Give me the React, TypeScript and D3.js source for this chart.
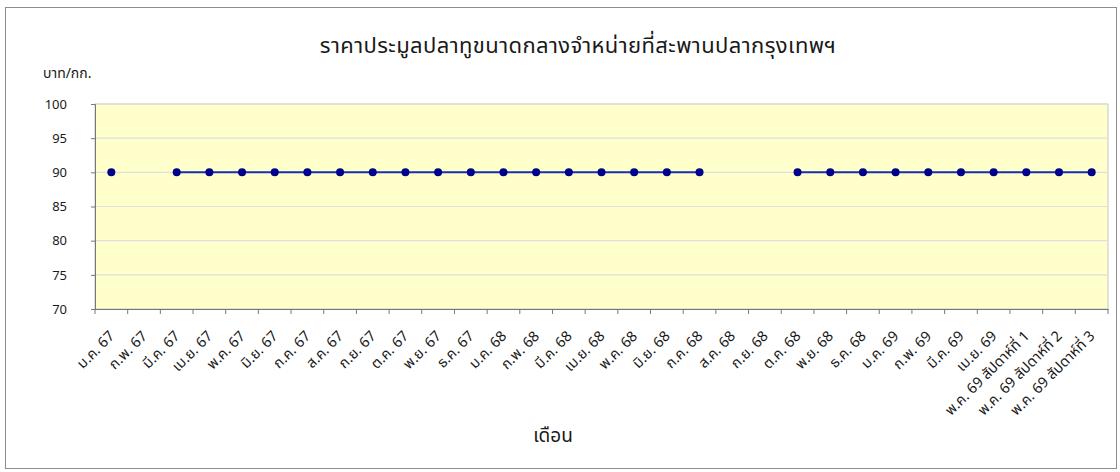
// @ts-nocheck
import React, { useEffect, useRef } from "react";
import * as d3 from "d3";

const months = [
  "ม.ค. 67", "ก.พ. 67", "มี.ค. 67", "เม.ย. 67", "พ.ค. 67", "มิ.ย. 67",
  "ก.ค. 67", "ส.ค. 67", "ก.ย. 67", "ต.ค. 67", "พ.ย. 67", "ธ.ค. 67",
  "ม.ค. 68", "ก.พ. 68", "มี.ค. 68", "เม.ย. 68", "พ.ค. 68", "มิ.ย. 68",
  "ก.ค. 68", "ส.ค. 68", "ก.ย. 68", "ต.ค. 68", "พ.ย. 68", "ธ.ค. 68",
  "ม.ค. 69", "ก.พ. 69", "มี.ค. 69", "เม.ย. 69",
  "พ.ค. 69 สัปดาห์ที่ 1", "พ.ค. 69 สัปดาห์ที่ 2", "พ.ค. 69 สัปดาห์ที่ 3",
];

// null = no data that month
const prices = [
  90, null, 90, 90, 90, 90,
  90, 90, 90, 90, 90, 90,
  90, 90, 90, 90, 90, 90,
  90, null, null, 90, 90, 90,
  90, 90, 90, 90,
  90, 90, 90,
];

const yTicks = [70, 75, 80, 85, 90, 95, 100];

const title = "ราคาประมูลปลาทูขนาดกลางจำหน่ายที่สะพานปลากรุงเทพฯ";
const yUnit = "บาท/กก.";
const xTitle = "เดือน";

const FONT = "Tahoma, 'Noto Sans Thai', 'Noto Sans', 'DejaVu Sans', sans-serif";

const App = () => {
  const ref = useRef();

  useEffect(() => {
    const svg = d3.select(ref.current);
    svg.selectAll("*").remove();

    const width = 1120,
      height = 472,
      margin = { top: 104, right: 12, bottom: 163, left: 95 };

    const data = months.map((m, i) => ({ m, v: prices[i] }));

    // outer frame
    svg
      .append("rect")
      .attr("x", 5.5)
      .attr("y", 7.5)
      .attr("width", 1111)
      .attr("height", 461)
      .attr("fill", "#fff")
      .attr("stroke", "#8c8c8c");

    const x = d3
      .scaleBand()
      .domain(months)
      .range([margin.left, width - margin.right]);

    const y = d3
      .scaleLinear()
      .domain([70, 100])
      .range([height - margin.bottom, margin.top]);

    // plot area
    svg
      .append("rect")
      .attr("x", margin.left)
      .attr("y", margin.top)
      .attr("width", width - margin.right - margin.left)
      .attr("height", height - margin.bottom - margin.top)
      .attr("fill", "#ffffcc")
      .attr("stroke", "#c6c6c6");

    // gridlines
    svg
      .append("g")
      .selectAll("line")
      .data(yTicks.filter(t => t > 70))
      .join("line")
      .attr("x1", margin.left)
      .attr("x2", width - margin.right)
      .attr("y1", d => y(d))
      .attr("y2", d => y(d))
      .attr("stroke", "#dedede")
      .attr("stroke-width", 1.2);

    // y axis
    const yAxis = svg
      .append("g")
      .attr("transform", `translate(${margin.left},0)`)
      .call(d3.axisLeft(y).tickValues(yTicks).tickSize(4).tickPadding(24));
    yAxis.selectAll("line,path").attr("stroke", "#777");
    yAxis
      .selectAll("text")
      .attr("font-family", FONT)
      .attr("font-size", 13)
      .attr("fill", "#1a1a1a");

    // x axis
    const xAxis = svg
      .append("g")
      .attr("transform", `translate(0,${height - margin.bottom})`)
      .call(d3.axisBottom(x).tickSize(0).tickFormat(() => ""));
    xAxis.select(".domain").attr("stroke", "#777");
    xAxis
      .selectAll(".tk")
      .data(d3.range(months.length + 1))
      .join("line")
      .attr("class", "tk")
      .attr("x1", i => margin.left + i * x.step())
      .attr("x2", i => margin.left + i * x.step())
      .attr("y1", 0)
      .attr("y2", 5)
      .attr("stroke", "#777");

    svg
      .append("g")
      .selectAll("text")
      .data(months)
      .join("text")
      .attr(
        "transform",
        d => `translate(${x(d) + x.bandwidth() / 2 + 4},${height - margin.bottom + 28}) rotate(-45)`
      )
      .attr("text-anchor", "end")
      .attr("font-family", FONT)
      .attr("font-size", 14.5)
      .attr("fill", "#1a1a1a")
      .text(d => d);

    // line with gaps
    const line = d3
      .line()
      .defined(d => d.v != null)
      .x(d => x(d.m) + x.bandwidth() / 2)
      .y(d => y(d.v));

    svg
      .append("path")
      .datum(data)
      .attr("fill", "none")
      .attr("stroke", "#1a2fb0")
      .attr("stroke-width", 2)
      .attr("d", line);

    svg
      .append("g")
      .selectAll("circle")
      .data(data.filter(d => d.v != null))
      .join("circle")
      .attr("cx", d => x(d.m) + x.bandwidth() / 2)
      .attr("cy", d => y(d.v))
      .attr("r", 4)
      .attr("fill", "#00008b");

    // titles
    svg
      .append("text")
      .attr("x", 578)
      .attr("y", 53)
      .attr("text-anchor", "middle")
      .attr("font-family", FONT)
      .attr("font-size", 22)
      .attr("letter-spacing", 0.4)
      .attr("fill", "#1a1a1a")
      .text(title);

    svg
      .append("text")
      .attr("x", 43)
      .attr("y", 78)
      .attr("font-family", FONT)
      .attr("font-size", 14)
      .attr("fill", "#1a1a1a")
      .text(yUnit);

    svg
      .append("text")
      .attr("x", 553)
      .attr("y", 442)
      .attr("text-anchor", "middle")
      .attr("font-family", FONT)
      .attr("font-size", 19)
      .attr("fill", "#1a1a1a")
      .text(xTitle);
  }, []);

  return (
    <svg
      ref={ref}
      width={1120}
      height={472}
      style={{ position: "absolute", left: 0, top: 0, background: "#fff" }}
    />
  );
};

export default App;
